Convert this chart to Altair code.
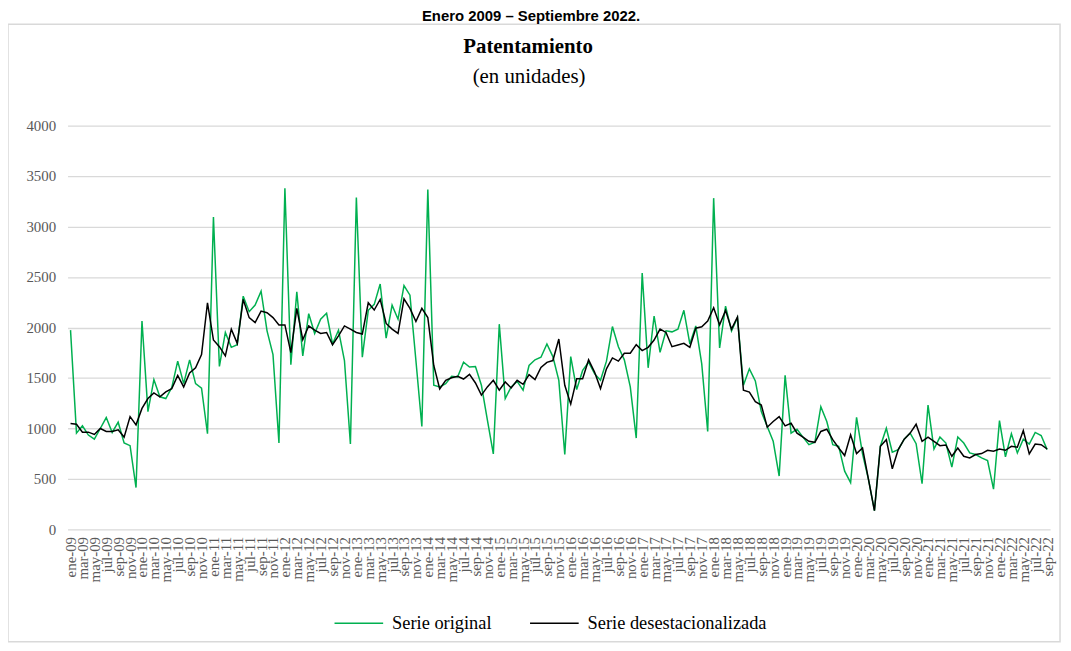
import altair as alt
import pandas as pd

MESES = ["ene", "feb", "mar", "abr", "may", "jun", "jul", "ago", "sep", "oct", "nov", "dic"]
ANIOS = list(range(2009, 2023))

ORIGINAL = [
    1974, 954, 1026, 935, 895, 1000, 1108, 961, 1062, 856, 830, 415,
    2065, 1167, 1484, 1314, 1297, 1405, 1667, 1444, 1680, 1444, 1399, 948,
    3095, 1614, 1951, 1804, 1830, 2310, 2157, 2222, 2359, 1967, 1732, 856,
    3379, 1631, 2353, 1719, 2137, 1941, 2082, 2141, 1837, 1974, 1673, 846,
    3288, 1706, 2170, 2229, 2431, 1895, 2222, 2082, 2415, 2320, 1673, 1020,
    3366, 1428, 1412, 1444, 1516, 1510, 1657, 1608, 1614, 1428, 1085, 748,
    2033, 1297, 1412, 1467, 1379, 1624, 1680, 1706, 1837, 1712, 1477, 742,
    1712, 1386, 1575, 1657, 1543, 1477, 1667, 2010, 1810, 1680, 1412, 905,
    2539, 1601, 2114, 1755, 1967, 1957, 1984, 2170, 1837, 2016, 1640, 970,
    3281, 1797, 2212, 1967, 2098, 1428, 1591, 1471, 1167, 1020, 873, 529,
    1526, 954, 993, 915, 840, 863, 1216, 1069, 840, 824, 578, 464,
    1111, 750, 497, 186, 824, 1003, 765, 791, 895, 954, 850, 454,
    1232, 797, 915, 856, 618, 915, 856, 758, 742, 709, 683, 399,
    1078, 719, 948, 758, 895, 846, 961, 931, 791,
]

DESEST = [
    1049, 1042, 964, 964, 941, 1000, 971, 971, 987, 915, 1118, 1036,
    1199, 1297, 1353, 1314, 1363, 1395, 1526, 1412, 1549, 1601, 1732, 2245,
    1876, 1810, 1719, 1984, 1843, 2278, 2098, 2049, 2163, 2147, 2098, 2026,
    2026, 1752, 2190, 1879, 2016, 1974, 1941, 1951, 1830, 1918, 2016, 1984,
    1951, 1935, 2245, 2173, 2278, 2040, 1984, 1941, 2284, 2190, 2059, 2190,
    2098, 1624, 1392, 1477, 1503, 1516, 1490, 1536, 1451, 1330, 1412, 1477,
    1379, 1461, 1402, 1477, 1438, 1533, 1484, 1605, 1655, 1673, 1886, 1428,
    1242, 1493, 1493, 1680, 1559, 1395, 1591, 1699, 1667, 1745, 1745, 1830,
    1771, 1804, 1876, 1984, 1951, 1810, 1827, 1843, 1804, 1993, 2007, 2065,
    2196, 2026, 2170, 1984, 2105, 1379, 1360, 1265, 1232, 1013, 1069, 1118,
    1026, 1052, 954, 915, 873, 863, 971, 993, 889, 807, 732, 938,
    752, 807, 497, 186, 824, 889, 601, 791, 895, 954, 1042, 873,
    915, 873, 830, 837, 725, 807, 725, 709, 742, 752, 784, 775,
    797, 784, 824, 814, 980, 748, 846, 840, 797,
]

SERIES = ["Serie original", "Serie desestacionalizada"]
COLORES = ["#00B050", "#000000"]

ENCABEZADO = "Enero 2009 \u2013 Septiembre 2022."
TITULO = "Patentamiento"
SUBTITULO = "(en unidades)"

n = len(ORIGINAL)
fechas = [f"{m}-{str(a)[2:]}" for a in ANIOS for m in MESES][:n]
etiquetas = fechas[::2]

df = pd.DataFrame({
    "fecha": fechas * 2,
    "valor": ORIGINAL + DESEST,
    "serie": [SERIES[0]] * n + [SERIES[1]] * n,
})

SERIF = "Liberation Serif"
GRIS = "#595959"

lineas = alt.Chart(df).mark_line(strokeWidth=1.5).encode(
    x=alt.X(
        "fecha:N",
        sort=fechas,
        scale=alt.Scale(type="point", padding=0.5),
        axis=alt.Axis(
            values=etiquetas, title=None, labelAngle=270, labelFont=SERIF,
            labelFontSize=15, labelColor=GRIS, labelPadding=7, ticks=False,
            domain=False, grid=False, labelOverlap=False, labelBound=False,
        ),
    ),
    y=alt.Y(
        "valor:Q",
        scale=alt.Scale(domain=[0, 4000]),
        axis=alt.Axis(
            values=list(range(0, 4001, 500)), format="d", title=None,
            labelFont=SERIF, labelFontSize=15, labelColor=GRIS,
            labelPadding=12, ticks=False, domain=False, grid=True,
            gridColor="#D9D9D9", gridWidth=1.3,
        ),
    ),
    color=alt.Color(
        "serie:N",
        sort=SERIES,
        scale=alt.Scale(domain=SERIES, range=COLORES),
        legend=alt.Legend(
            title=None, orient="none", legendX=268, legendY=476,
            direction="horizontal", symbolType="stroke", symbolSize=2401,
            symbolStrokeWidth=1.5, labelFont=SERIF, labelFontSize=18.5,
            labelColor="#000000", labelOffset=8, columnPadding=35, padding=0,
            labelLimit=0,
        ),
    ),
)

uno = pd.DataFrame({"k": [0]})

marco = alt.Chart(uno).mark_rect(
    fillOpacity=0, stroke="#D9D9D9", strokeWidth=1.5
).encode(
    x=alt.value(-60), x2=alt.value(1000), y=alt.value(-102), y2=alt.value(520)
)

encabezado = alt.Chart(uno).mark_text(
    text=ENCABEZADO, font="Liberation Sans", fontSize=15, fontWeight="bold",
    align="center", baseline="alphabetic", color="#000000",
).encode(x=alt.value(467), y=alt.value(-105))

titulo = alt.Chart(uno).mark_text(
    text=TITULO, font=SERIF, fontSize=21, fontWeight="bold",
    align="center", baseline="alphabetic", color="#000000",
).encode(x=alt.value(464), y=alt.value(-73))

subtitulo = alt.Chart(uno).mark_text(
    text=SUBTITULO, font=SERIF, fontSize=21,
    align="center", baseline="alphabetic", color="#000000",
).encode(x=alt.value(465), y=alt.value(-43))

chart = alt.layer(marco, encabezado, titulo, subtitulo, lineas).properties(
    width=990,
    height=407,
    autosize="none",
    padding={"left": 60, "top": 116, "right": 13, "bottom": 120},
).configure_view(stroke=None)

chart.save("out.html", embed_options={"renderer": "svg", "actions": False})
